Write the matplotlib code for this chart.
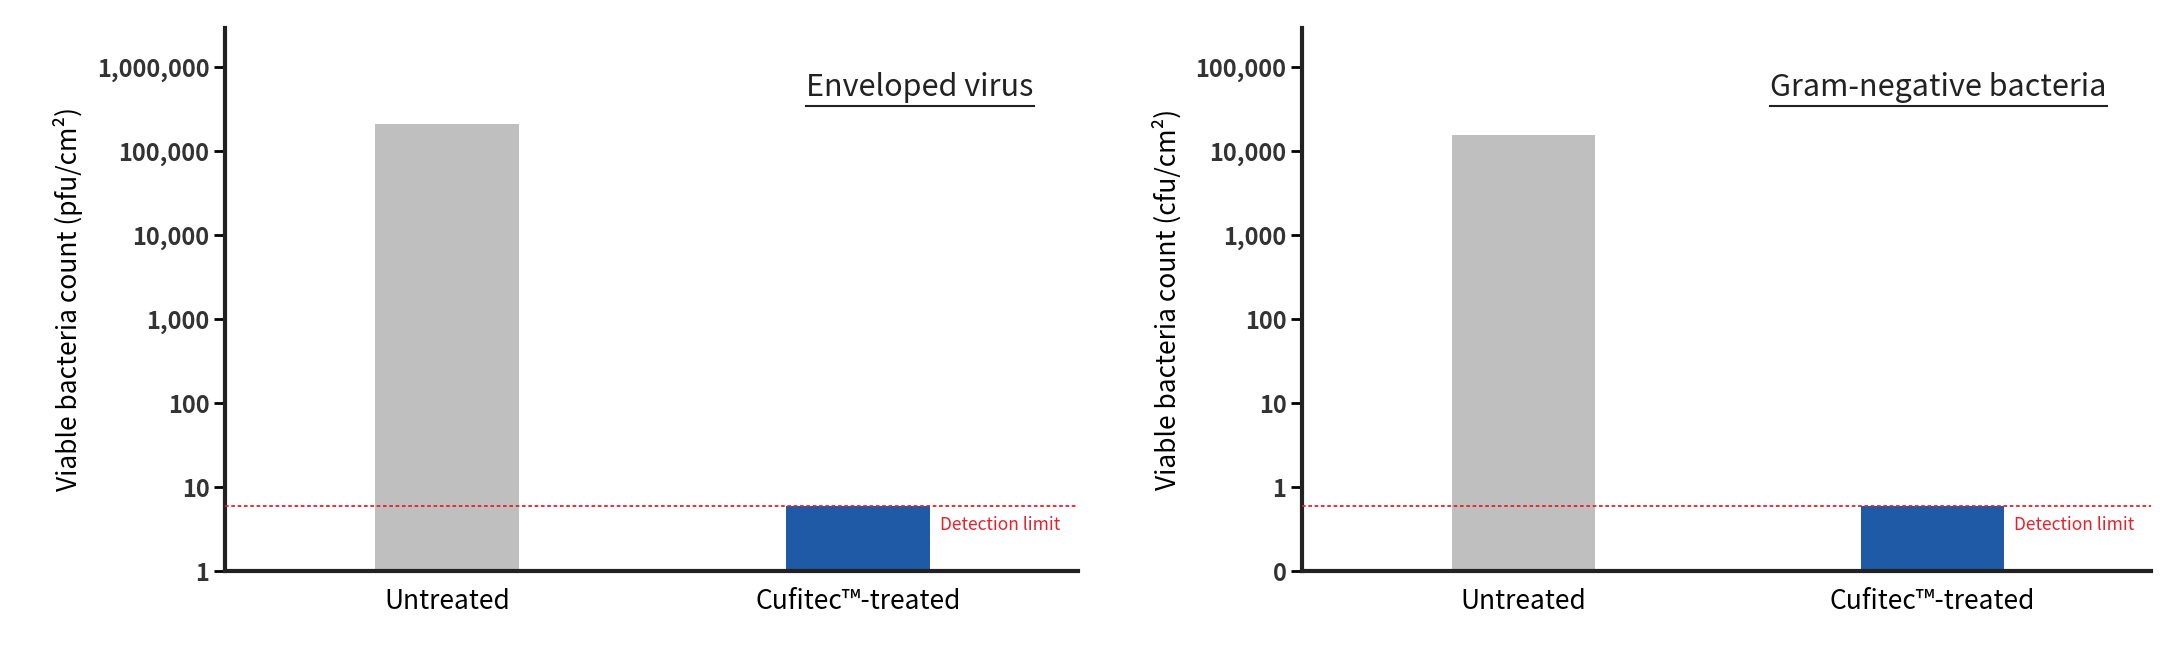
import matplotlib
matplotlib.use("Agg")
import matplotlib.pyplot as plt
from matplotlib.ticker import FixedLocator, FixedFormatter

plt.rcParams["font.family"] = "Noto Sans CJK JP"

categories = ["Untreated", "Cufitec™-treated"]
virus_values = [210000, 6]
virus_limit = 6
virus_ticks = [1, 10, 100, 1000, 10000, 100000, 1000000]
virus_ticklabels = ["1", "10", "100", "1,000", "10,000", "100,000", "1,000,000"]
bact_values = [15500, 0.6]
bact_limit = 0.6
bact_ticks = [0.1, 1, 10, 100, 1000, 10000, 100000]
bact_ticklabels = ["0", "1", "10", "100", "1,000", "10,000", "100,000"]

colors = ["#bfbfbf", "#1f5aa6"]

fig = plt.figure(figsize=(21.67, 6.58), dpi=100)
panels = [
    ([0.104, 0.132, 0.3935, 0.826], virus_values, virus_limit, virus_ticks, virus_ticklabels,
     "Viable bacteria count (pfu/cm²)", "Enveloped virus"),
    ([0.601, 0.132, 0.3916, 0.826], bact_values, bact_limit, bact_ticks, bact_ticklabels,
     "Viable bacteria count (cfu/cm²)", "Gram-negative bacteria"),
]
for rect, vals, lim, ticks, labels, ylab, title in panels:
    ax = fig.add_axes(rect)
    ax.set_yscale("log")
    base = ticks[0]
    ax.bar([0, 1], [v - base for v in vals], width=0.35, color=colors, bottom=base, zorder=2)
    ax.set_ylim(base, base * 10 ** 6.47)
    ax.set_xlim(-0.54, 1.535)
    ax.axhline(lim, color="#e8202a", linestyle=(0, (2, 1.5)), linewidth=1.3, zorder=3)
    ax.text(1.2, lim * 0.75, "Detection limit", color="#e8202a", fontsize=12.5, va="top", ha="left")
    ax.yaxis.set_major_locator(FixedLocator(ticks))
    ax.yaxis.set_major_formatter(FixedFormatter(labels))
    ax.yaxis.set_minor_locator(FixedLocator([]))
    ax.set_xticks([0, 1])
    ax.set_xticklabels(categories, fontsize=19)
    for t in ax.get_yticklabels():
        t.set_fontsize(17)
        t.set_fontweight("bold")
        t.set_color("#333333")
    ax.tick_params(axis="y", length=8, width=2, direction="out")
    ax.tick_params(axis="x", length=0, pad=12)
    for s in ["top", "right"]:
        ax.spines[s].set_visible(False)
    for s in ["left", "bottom"]:
        ax.spines[s].set_linewidth(3)
        ax.spines[s].set_color("#222222")
    ax.set_ylabel(ylab, fontsize=19, labelpad=10)
    ax.text(0.948, 0.89, title, transform=ax.transAxes, ha="right", va="center",
            fontsize=22, color="#222222")
    tt = ax.texts[-1]
    fig.canvas.draw()
    bb = tt.get_window_extent().transformed(ax.transAxes.inverted())
    ax.plot([bb.x0, bb.x1], [bb.y0 - 0.005, bb.y0 - 0.005], transform=ax.transAxes,
            color="#222222", linewidth=1.5, clip_on=False)

fig.savefig("out.png", dpi=100)
